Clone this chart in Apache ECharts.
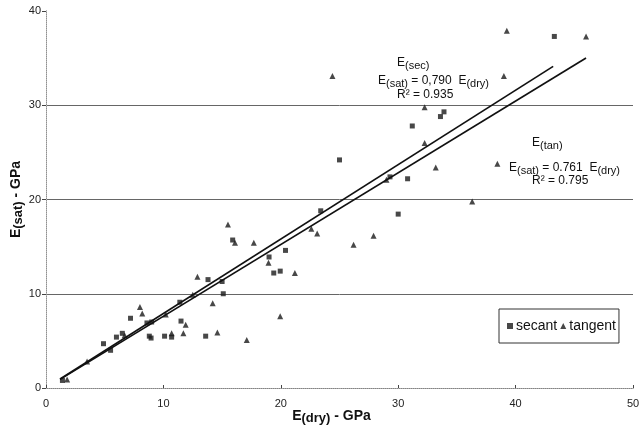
<!DOCTYPE html>
<html>
<head>
<meta charset="utf-8">
<script src="https://cdn.jsdelivr.net/npm/echarts@6/dist/echarts.min.js"></script>
<style>html,body{margin:0;padding:0;background:#fff}#c{width:641px;height:433px}</style>
</head>
<body>
<div id="c"></div>
<script>
// E(dry), E(sat) in GPa
const secantData = [
  [1.4, 0.8], [4.9, 4.7], [5.5, 4.0], [6.0, 5.4], [6.5, 5.8], [7.2, 7.4],
  [8.6, 6.9], [9.0, 7.0], [8.8, 5.5], [8.95, 5.3], [10.1, 5.5], [10.7, 5.4],
  [11.5, 7.1], [11.4, 9.1], [13.6, 5.5], [13.8, 11.5], [15.0, 11.3], [15.1, 10.0],
  [15.9, 15.7], [19.0, 13.9], [19.4, 12.2], [19.95, 12.4], [20.4, 14.6], [23.4, 18.8],
  [25.0, 24.2], [29.3, 22.4], [30.0, 18.45], [30.8, 22.2], [31.2, 27.8], [33.6, 28.8],
  [33.9, 29.3], [43.3, 37.3]
];
const tangentData = [
  [1.8, 0.9], [3.5, 2.8], [6.7, 5.6], [8.0, 8.6], [8.2, 7.9], [10.2, 7.8],
  [10.7, 5.8], [11.7, 5.8], [11.9, 6.7], [12.5, 9.9], [12.9, 11.8], [14.2, 9.0],
  [14.6, 5.9], [15.5, 17.35], [16.1, 15.4], [17.7, 15.4], [17.1, 5.1], [18.95, 13.3],
  [19.95, 7.6], [21.2, 12.2], [22.6, 16.9], [23.1, 16.4], [24.4, 33.1], [26.2, 15.2],
  [27.9, 16.15], [29.0, 22.1], [32.25, 29.8], [32.25, 26.0], [33.2, 23.4], [36.3, 19.8],
  [38.45, 23.8], [39.0, 33.1], [39.25, 37.9], [46.0, 37.3]
];
const secantSlope = 0.790;
const tangentSlope = 0.761;
const secantFitRange = [1.2, 43.2];
const tangentFitRange = [1.2, 46.0];
const xTicks = [0, 50, 10];
const yTicks = [0, 40, 10];

const FONT = "'Liberation Sans', Arial, sans-serif";
const secantLine = secantFitRange.map(x => [x, secantSlope * x]);
const tangentLine = tangentFitRange.map(x => [x, tangentSlope * x]);

const rich = {
  m: { fontSize: 12, fontFamily: FONT, color: '#111', lineHeight: 14, verticalAlign: 'top' },
  s: { fontSize: 11, fontFamily: FONT, color: '#111', lineHeight: 14, verticalAlign: 'bottom', padding: [4, 0, 0, 0] }
};
function txt(text, x, y) {
  return { type: 'text', left: x, top: y, style: { text: text, rich: rich, fill: '#111', font: '12px ' + FONT } };
}
const nameRich = {
  m: { fontSize: 14, fontWeight: 'bold', fontFamily: FONT, color: '#111', lineHeight: 16, verticalAlign: 'top' },
  s: { fontSize: 13, fontWeight: 'bold', fontFamily: FONT, color: '#111', lineHeight: 16, verticalAlign: 'bottom', padding: [5, 0, 0, 0] }
};

const chart = echarts.init(document.getElementById('c'));
chart.setOption({
  animation: false,
  textStyle: { fontFamily: FONT },
  grid: { left: 46, right: 8, top: 11, bottom: 45, containLabel: false, outerBoundsMode: 'none' },
  xAxis: [{
    type: 'value', min: xTicks[0], max: xTicks[1], interval: xTicks[2],
    name: '{m|E}{s|(dry)}{m| - GPa}', nameLocation: 'middle', nameGap: 21, nameMoveOverlap: false,
    nameTextStyle: { padding: [0, 16, 0, 0], rich: nameRich },
    axisLine: { lineStyle: { color: '#444', width: 1 } },
    axisTick: { inside: true, length: 3, lineStyle: { color: '#444' } },
    axisLabel: { fontSize: 11, color: '#222', margin: 10 },
    splitLine: { show: false }
  }, {
    type: 'value', position: 'top', min: xTicks[0], max: xTicks[1],
    axisLine: { lineStyle: { color: '#aaa', type: 'dotted' } },
    axisTick: { show: false }, axisLabel: { show: false }, splitLine: { show: false }
  }],
  yAxis: [{
    type: 'value', min: yTicks[0], max: yTicks[1], interval: yTicks[2],
    name: '{m|E}{s|(sat)}{m| - GPa}', nameLocation: 'middle', nameGap: 21, nameMoveOverlap: false,
    nameTextStyle: { rich: nameRich },
    axisLine: { show: true, lineStyle: { color: '#444', width: 1 } },
    axisTick: { show: true, length: 4, lineStyle: { color: '#444' } },
    axisLabel: { fontSize: 11, color: '#222', margin: 5 },
    splitLine: { show: true, showMinLine: false, showMaxLine: false, lineStyle: { color: '#666', width: 1 } }
  }, {
    type: 'value', position: 'right', min: yTicks[0], max: yTicks[1],
    axisLine: { show: true, lineStyle: { color: '#bbb', type: 'dotted' } },
    axisTick: { show: false }, axisLabel: { show: false }, splitLine: { show: false }
  }],
  legend: {
    data: [
      { name: 'secant', icon: 'rect' },
      { name: 'tangent', icon: 'triangle' }
    ],
    left: 499, top: 309, orient: 'horizontal',
    borderColor: '#333', borderWidth: 1, borderRadius: 0,
    padding: [10, 3, 10, 8], itemGap: 3, itemWidth: 6, itemHeight: 6,
    textStyle: { fontSize: 14, color: '#111', fontFamily: FONT, padding: [0, 0, 0, -2] }
  },
  series: [
    { name: 'secant fit', type: 'line', data: secantLine, symbol: 'none', lineStyle: { color: '#111', width: 1.7 }, silent: true },
    { name: 'tangent fit', type: 'line', data: tangentLine, symbol: 'none', lineStyle: { color: '#111', width: 1.7 }, silent: true },
    { name: 'secant', type: 'scatter', data: secantData, symbol: 'rect', symbolSize: 5, itemStyle: { color: '#1a1a1a' } },
    { name: 'tangent', type: 'scatter', data: tangentData, symbol: 'triangle', symbolSize: 6, itemStyle: { color: '#1a1a1a' } }
  ],
  graphic: [
    txt('{m|E}{s|(sec)}', 397, 56),
    txt('{m|E}{s|(sat)}{m| = 0,790  E}{s|(dry)}', 378, 74),
    txt('{m|R² = 0.935}', 397, 89),
    txt('{m|E}{s|(tan)}', 532, 136),
    txt('{m|E}{s|(sat)}{m| = 0.761  E}{s|(dry)}', 509, 161),
    txt('{m|R² = 0.795}', 532, 175)
  ]
});
</script>
</body>
</html>
